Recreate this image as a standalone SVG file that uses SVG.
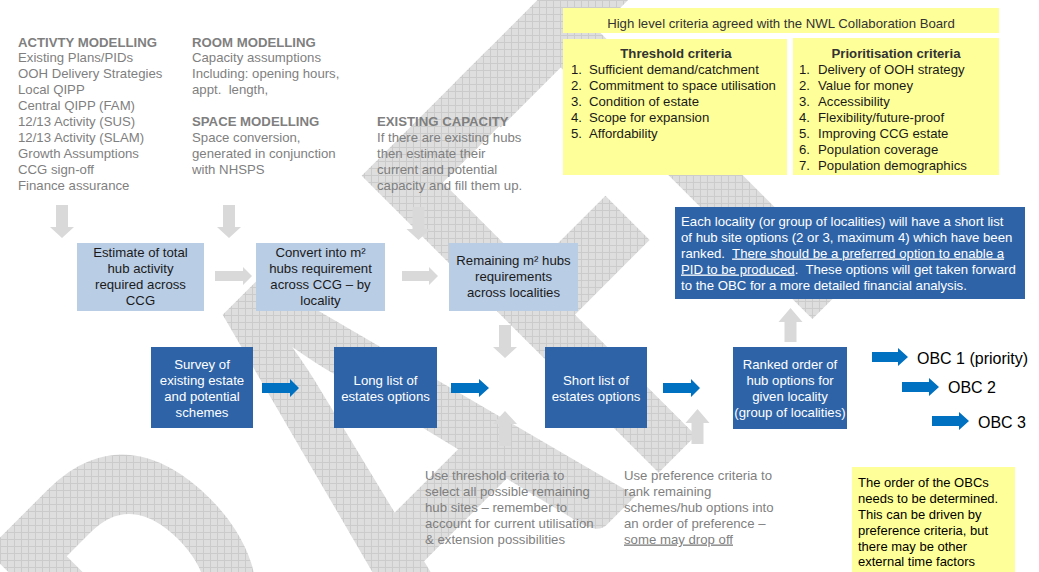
<svg xmlns="http://www.w3.org/2000/svg" width="1039" height="572" viewBox="0 0 1039 572">
<defs>
<pattern id="wm" width="7" height="7" patternUnits="userSpaceOnUse" patternTransform="scale(1,0.6711) rotate(45)">
<rect width="7" height="7" fill="#dedede"/>
<path d="M0 0.5H7M0.5 0V7" stroke="#cbcbcb" stroke-width="1"/>
</pattern>
<style>
text{font-family:"Liberation Sans",Arial,sans-serif;font-size:13.2px}
.g{fill:#7f7f7f}
.gb{fill:#7f7f7f;font-weight:bold}
.dk{fill:#1a1a1a}
.w{fill:#ffffff}
.c{text-anchor:middle}
.lb{fill:#b9cde5}
.db{fill:#2e64a7}
.y{fill:#ffff99}
.ga{fill:#d9d9d9}
.ba{fill:#0070c0}
.u{text-decoration:underline}
.wmk{font-family:Lato,"Open Sans",sans-serif;font-weight:bold;font-size:390px}
</style>
</defs>
<rect width="1039" height="572" fill="#ffffff"/>
<g id="watermark">
<text class="wmk" transform="rotate(-45) scale(1,1.49)" fill="url(#wm)"><tspan x="-719" y="537">D</tspan><tspan x="-430" y="537">R</tspan><tspan x="-174" y="537">A</tspan><tspan x="100" y="537">F</tspan><tspan x="258" y="537">T</tspan></text>
</g>

<g id="activity-modelling">
<text class="gb" x="18" y="46.5">ACTIVTY MODELLING</text>
<text class="g" x="18" y="62">Existing Plans/PIDs</text>
<text class="g" x="18" y="78">OOH Delivery Strategies</text>
<text class="g" x="18" y="94">Local QIPP</text>
<text class="g" x="18" y="110">Central QIPP (FAM)</text>
<text class="g" x="18" y="126">12/13 Activity (SUS)</text>
<text class="g" x="18" y="142">12/13 Activity (SLAM)</text>
<text class="g" x="18" y="158">Growth Assumptions</text>
<text class="g" x="18" y="174">CCG sign-off</text>
<text class="g" x="18" y="190">Finance assurance</text>
</g>
<g id="room-modelling">
<text class="gb" x="192" y="46.5">ROOM MODELLING</text>
<text class="g" x="192" y="62">Capacity assumptions</text>
<text class="g" x="192" y="78">Including: opening hours,</text>
<text class="g" x="192" y="94" xml:space="preserve">appt.  length,</text>
</g>
<g id="space-modelling">
<text class="gb" x="192" y="126">SPACE MODELLING</text>
<text class="g" x="192" y="142">Space conversion,</text>
<text class="g" x="192" y="158">generated in conjunction</text>
<text class="g" x="192" y="174">with NHSPS</text>
</g>
<g id="existing-capacity">
<text class="gb" x="377" y="126">EXISTING CAPACITY</text>
<text class="g" x="377" y="142">If there are existing hubs</text>
<text class="g" x="377" y="158">then estimate their</text>
<text class="g" x="377" y="174">current and potential</text>
<text class="g" x="377" y="190">capacity and fill them up.</text>
</g>

<g id="criteria-header">
<rect class="y" x="563" y="8" width="436" height="25"/>
<text x="781" y="27.5" class="c" fill="#333333">High level criteria agreed with the NWL Collaboration Board</text>
</g>
<g id="threshold-criteria">
<rect class="y" x="563" y="39" width="224" height="136"/>
<text x="676" y="58" class="c" fill="#333333" font-weight="bold">Threshold criteria</text>
<text class="dk" x="571" y="74">1.</text><text class="dk" x="589" y="74">Sufficient demand/catchment</text>
<text class="dk" x="571" y="90">2.</text><text class="dk" x="589" y="90">Commitment to space utilisation</text>
<text class="dk" x="571" y="106">3.</text><text class="dk" x="589" y="106">Condition of estate</text>
<text class="dk" x="571" y="122">4.</text><text class="dk" x="589" y="122">Scope for expansion</text>
<text class="dk" x="571" y="138">5.</text><text class="dk" x="589" y="138">Affordability</text>
</g>
<g id="prioritisation-criteria">
<rect class="y" x="793" y="38" width="206" height="137"/>
<text x="896" y="58" class="c" fill="#333333" font-weight="bold">Prioritisation criteria</text>
<text class="dk" x="799" y="73.5">1.</text><text class="dk" x="818" y="73.5">Delivery of OOH strategy</text>
<text class="dk" x="799" y="89.5">2.</text><text class="dk" x="818" y="89.5">Value for money</text>
<text class="dk" x="799" y="105.5">3.</text><text class="dk" x="818" y="105.5">Accessibility</text>
<text class="dk" x="799" y="121.5">4.</text><text class="dk" x="818" y="121.5">Flexibility/future-proof</text>
<text class="dk" x="799" y="137.5">5.</text><text class="dk" x="818" y="137.5">Improving CCG estate</text>
<text class="dk" x="799" y="153.5">6.</text><text class="dk" x="818" y="153.5">Population coverage</text>
<text class="dk" x="799" y="169.5">7.</text><text class="dk" x="818" y="169.5">Population demographics</text>
</g>

<g id="estimate-activity">
<rect class="lb" x="77" y="243" width="127" height="68"/>
<text class="c dk" x="140.5" y="257">Estimate of total</text>
<text class="c dk" x="140.5" y="273">hub activity</text>
<text class="c dk" x="140.5" y="289">required across</text>
<text class="c dk" x="140.5" y="305">CCG</text>
</g>
<g id="convert-m2">
<rect class="lb" x="256" y="243" width="129" height="68"/>
<text class="c dk" x="320.5" y="257">Convert into m²</text>
<text class="c dk" x="320.5" y="273">hubs requirement</text>
<text class="c dk" x="320.5" y="289">across CCG – by</text>
<text class="c dk" x="320.5" y="305">locality</text>
</g>
<g id="remaining-m2">
<rect class="lb" x="449" y="243" width="129" height="68"/>
<text class="c dk" x="513.5" y="265">Remaining m² hubs</text>
<text class="c dk" x="513.5" y="281">requirements</text>
<text class="c dk" x="513.5" y="297">across localities</text>
</g>

<g id="shortlist-note">
<rect class="db" x="675" y="207" width="350" height="92"/>
<text class="w" x="681" y="225.5" xml:space="preserve">Each locality (or group of localities) will have a short list</text>
<text class="w" x="681" y="241.5" xml:space="preserve">of hub site options (2 or 3, maximum 4) which have been</text>
<text class="w" x="681" y="257.5" xml:space="preserve">ranked.  <tspan class="u">There should be a preferred option to enable a</tspan></text>
<text class="w" x="681" y="273.5" xml:space="preserve"><tspan class="u">PID to be produced</tspan>.  These options will get taken forward</text>
<text class="w" x="681" y="289.5" xml:space="preserve">to the OBC for a more detailed financial analysis.</text>
</g>

<g id="survey">
<rect class="db" x="151" y="347" width="102" height="81"/>
<text class="c w" x="202" y="369">Survey of</text>
<text class="c w" x="202" y="385">existing estate</text>
<text class="c w" x="202" y="401">and potential</text>
<text class="c w" x="202" y="417">schemes</text>
</g>
<g id="long-list">
<rect class="db" x="334" y="347" width="103" height="81"/>
<text class="c w" x="385.5" y="385">Long list of</text>
<text class="c w" x="385.5" y="401">estates options</text>
</g>
<g id="short-list">
<rect class="db" x="545" y="347" width="102" height="81"/>
<text class="c w" x="596" y="385">Short list of</text>
<text class="c w" x="596" y="401">estates options</text>
</g>
<g id="ranked-order">
<rect class="db" x="733" y="347" width="114" height="82"/>
<text class="c w" x="790" y="369">Ranked order of</text>
<text class="c w" x="790" y="385">hub options for</text>
<text class="c w" x="790" y="401">given locality</text>
<text class="c w" x="790" y="417">(group of localities)</text>
</g>

<g id="obc-1"><text x="917" y="364" style="font-size:16px" fill="#000">OBC 1 (priority)</text></g>
<g id="obc-2"><text x="948" y="393" style="font-size:16px" fill="#000">OBC 2</text></g>
<g id="obc-3"><text x="978" y="427.5" style="font-size:16px" fill="#000">OBC 3</text></g>

<g id="threshold-note">
<text class="g" x="425" y="479.5">Use threshold criteria to</text>
<text class="g" x="425" y="495.5">select all possible remaining</text>
<text class="g" x="425" y="511.5">hub sites – remember to</text>
<text class="g" x="425" y="527.5">account for current utilisation</text>
<text class="g" x="425" y="543.5">&amp; extension possibilities</text>
</g>
<g id="preference-note">
<text class="g" x="624" y="479.5">Use preference criteria to</text>
<text class="g" x="624" y="495.5">rank remaining</text>
<text class="g" x="624" y="511.5">schemes/hub options into</text>
<text class="g" x="624" y="527.5">an order of preference –</text>
<text class="g u" x="624" y="543.5">some may drop off</text>
</g>
<g id="obc-order-note">
<rect class="y" x="852" y="467" width="163" height="105"/>
<text fill="#000" x="858" y="487" style="font-size:13px">The order of the OBCs</text>
<text fill="#000" x="858" y="503" style="font-size:13px">needs to be determined.</text>
<text fill="#000" x="858" y="519" style="font-size:13px">This can be driven by</text>
<text fill="#000" x="858" y="535" style="font-size:13px">preference criteria, but</text>
<text fill="#000" x="858" y="550.5" style="font-size:13px">there may be other</text>
<text fill="#000" x="858" y="566" style="font-size:13px">external time factors</text>
</g>

<g id="connectors">
<polygon class="ga" points="56,205 68,205 68,227 74,227 62,238 50,227 56,227"/>
<polygon class="ga" points="223,205 235,205 235,227 241,227 229,238 217,227 223,227"/>
<polygon class="ga" points="412.5,207 424.5,207 424.5,229 430.5,229 418.5,240 406.5,229 412.5,229"/>
<polygon class="ga" points="215,271 243,271 243,267 252,276 243,285 243,281 215,281"/>
<polygon class="ga" points="402,271 429,271 429,267 438,276 429,285 429,281 402,281"/>
<polygon class="ga" points="499,325 511,325 511,347 517,347 505,358 493,347 499,347"/>
<polygon class="ga" points="499,446 511,446 511,424 517,424 505,411 493,424 499,424"/>
<polygon class="ga" points="691.5,444 703.5,444 703.5,423 709.5,423 697.5,409 685.5,423 691.5,423"/>
<polygon class="ga" points="784.5,342 796.5,342 796.5,322 802.5,322 790.5,308 778.5,322 784.5,322"/>
<polygon class="ba" points="262,383 290,383 290,379 299,388 290,397 290,393 262,393"/>
<polygon class="ba" points="451,383 479,383 479,379 489,388 479,397 479,393 451,393"/>
<polygon class="ba" points="663,383 691,383 691,379 700,388 691,397 691,393 663,393"/>
<polygon class="ba" points="872,352 898,352 898,348 908,357 898,366 898,362 872,362"/>
<polygon class="ba" points="902,382 929,382 929,378 939,387 929,396 929,392 902,392"/>
<polygon class="ba" points="932,416 959,416 959,412 969,421 959,430 959,426 932,426"/>
</g>
</svg>
